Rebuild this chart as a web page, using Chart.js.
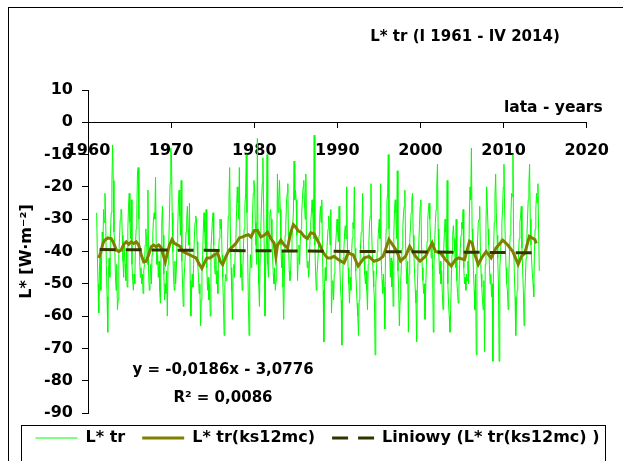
<!DOCTYPE html>
<html>
<head>
<meta charset="utf-8">
<script src="https://cdn.jsdelivr.net/npm/chart.js@4.4.1/dist/chart.umd.min.js"></script>
<style>
  html, body { margin: 0; padding: 0; background: #fff; }
  #c { display: block; }
</style>
</head>
<body>
<canvas id="c" width="623" height="461"></canvas>
<script>
// Net long-wave radiation L* [W·m-2], monthly, I 1961 – IV 2014 (one row per year)
const firstYear = 1961;
const lTr = [
  -28, -41, -50, -59, -46, -40, -52, -44, -34, -38, -27, -31,
  -22, -30, -44, -54, -65, -46, -42, -48, -34, -28, -19, -7,
  -18, -34, -37, -47, -52, -44, -58, -55, -41, -36, -30, -27,
  -27, -35, -43, -48, -38, -44, -49, -40, -51, -33, -26, -22,
  -31, -36, -24, -44, -49, -52, -47, -50, -38, -33, -27, -15,
  -14, -30, -42, -48, -45, -50, -47, -53, -46, -44, -38, -33,
  -36, -44, -21, -47, -52, -49, -44, -50, -41, -35, -30, -28,
  -30, -17, -38, -44, -41, -48, -43, -52, -56, -40, -31, -26,
  -35, -47, -55, -50, -53, -46, -60, -44, -38, -30, -19, -8,
  -10, -28, -40, -48, -52, -43, -50, -46, -37, -33, -25, -21,
  -29, -35, -18, -43, -50, -57, -49, -45, -41, -34, -30, -26,
  -33, -38, -25, -49, -60, -52, -47, -51, -44, -36, -31, -29,
  -30, -37, -44, -48, -53, -50, -63, -55, -47, -41, -33, -28,
  -34, -40, -27, -45, -52, -48, -55, -50, -60, -39, -35, -31,
  -28, -38, -44, -47, -41, -50, -46, -53, -40, -36, -30, -33,
  -30, -41, -48, -56, -66, -51, -47, -49, -43, -38, -29, -24,
  -14, -33, -45, -52, -61, -47, -44, -48, -40, -36, -27, -20,
  -25, -30, -14, -40, -48, -44, -52, -46, -38, -33, -26, -22,
  -10, -28, -42, -55, -66, -48, -41, -45, -37, -30, -22, -18,
  -20, -31, -38, -44, -5, -40, -50, -57, -42, -33, -25, -19,
  -11, -26, -40, -60, -45, -38, -10, -44, -48, -36, -29, -27,
  -30, -36, -42, -47, -50, -45, -52, -49, -40, -16, -28, -24,
  -18, -27, -38, -45, -40, -51, -61, -48, -35, -32, -25, -22,
  -19, -37, -46, -49, -46, -40, -36, -32, -28, -12, -24, -21,
  -24, -35, -49, -42, -38, -44, -37, -33, -28, -24, -20, -18,
  -25, -30, -16, -39, -45, -43, -48, -45, -36, -31, -28, -24,
  -28, -36, -4, -38, -46, -52, -47, -44, -40, -35, -30, -26,
  -31, -24, -40, -52, -68, -50, -45, -49, -41, -37, -33, -29,
  -33, -38, -27, -59, -52, -49, -55, -47, -42, -38, -34, -30,
  -34, -37, -26, -44, -51, -55, -69, -50, -42, -39, -34, -32,
  -36, -20, -38, -45, -50, -56, -48, -52, -41, -36, -31, -33,
  -20, -39, -46, -51, -56, -60, -66, -55, -45, -38, -34, -32,
  -22, -36, -42, -47, -50, -46, -52, -58, -44, -37, -31, -29,
  -19, -34, -41, -46, -51, -55, -72, -50, -46, -40, -37, -33,
  -30, -36, -19, -44, -49, -53, -47, -51, -64, -40, -33, -25,
  -22, -10, -33, -41, -48, -42, -51, -43, -57, -35, -27, -24,
  -28, -36, -15, -46, -52, -63, -55, -49, -44, -39, -33, -28,
  -26, -21, -38, -45, -50, -43, -65, -47, -36, -33, -28, -24,
  -22, -35, -41, -47, -52, -56, -68, -51, -43, -38, -32, -26,
  -24, -38, -45, -49, -53, -50, -61, -52, -44, -37, -30, -27,
  -25, -30, -36, -42, -38, -46, -65, -44, -37, -31, -27, -20,
  -13, -33, -41, -47, -43, -50, -46, -53, -58, -40, -34, -30,
  -34, -42, -18, -50, -56, -60, -65, -58, -49, -41, -35, -32,
  -36, -40, -45, -30, -49, -53, -56, -51, -44, -39, -35, -31,
  -33, -27, -45, -50, -48, -52, -47, -49, -43, -50, -30, -20,
  -24, -8, -33, -40, -46, -52, -58, -47, -72, -43, -36, -31,
  -30, -26, -40, -47, -51, -55, -58, -49, -71, -44, -32, -20,
  -26, -33, -38, -44, -50, -47, -54, -50, -74, -40, -31, -23,
  -16, -28, -35, -42, -50, -74, -45, -41, -36, -31, -27, -20,
  -13, -27, -38, -45, -50, -52, -58, -48, -40, -35, -29, -22,
  -23, -10, -38, -47, -54, -66, -57, -52, -46, -41, -36, -31,
  -29, -26, -39, -46, -52, -63, -54, -48, -42, -36, -30, -24,
  -19, -13, -30, -38, -43, -47, -50, -54, -40, -33, -27, -22,
  -25, -19, -33, -46
];

// 12-month moving average (ks12mc), read at these dates
const maYears = [
  1961.3, 1961.5, 1961.8, 1962.0, 1962.4, 1962.8, 1963.1, 1963.4, 1963.7, 1964.0,
  1964.3, 1964.6, 1964.9, 1965.2, 1965.5, 1965.8, 1966.1, 1966.4, 1966.7, 1967.0,
  1967.3, 1967.6, 1967.9, 1968.2, 1968.5, 1968.8, 1969.1, 1969.3, 1969.5, 1969.8,
  1970.1, 1970.4, 1970.8, 1971.1, 1971.4, 1971.8, 1972.2, 1972.6, 1973.0, 1973.4,
  1973.7, 1974.0, 1974.3, 1974.7, 1975.2, 1975.6, 1975.9, 1976.2, 1976.6, 1977.0,
  1977.4, 1977.8, 1978.2, 1978.6, 1979.0, 1979.3, 1979.6, 1980.0, 1980.4, 1980.8,
  1981.2, 1981.6, 1982.0, 1982.4, 1982.6, 1982.8, 1983.2, 1983.6, 1984.0, 1984.4,
  1984.7, 1985.0, 1985.3, 1985.6, 1986.0, 1986.4, 1986.8, 1987.2, 1987.6, 1987.9,
  1988.3, 1988.8, 1989.2, 1989.6, 1990.1, 1990.8, 1991.3, 1991.9, 1992.5, 1993.2,
  1993.8, 1994.4, 1995.0, 1995.5, 1995.8, 1996.2, 1996.8, 1997.2, 1997.6, 1998.2,
  1998.7, 1999.4, 1999.95, 2000.6, 2001.4, 2001.8, 2002.4, 2003.0, 2003.7, 2004.2,
  2004.6, 2005.3, 2005.9, 2006.2, 2006.55, 2006.95, 2007.35, 2007.9, 2008.5, 2009.1,
  2009.9, 2010.5, 2011.1, 2011.75, 2012.15, 2012.55, 2013.1, 2013.75, 2013.95
];
const maValues = [
  -42.0, -40.5, -37.5, -36.5, -35.8, -36.0, -37.5, -39.5, -40.0, -39.5,
  -37.8, -37.0, -37.8, -37.0, -37.5, -37.0, -38.0, -41.0, -43.2, -43.0,
  -41.0, -38.5, -38.0, -38.5, -38.0, -38.8, -41.5, -43.2, -41.0, -38.0,
  -36.3, -37.5, -38.0, -38.5, -40.0, -40.5, -41.0, -41.5, -42.0, -44.0,
  -45.2, -43.5, -42.0, -42.0, -41.0, -40.5, -43.0, -44.0, -41.5, -39.5,
  -38.5, -37.5, -35.8, -35.5, -35.0, -34.8, -35.5, -33.5, -33.5, -35.5,
  -35.0, -34.0, -36.0, -37.5, -41.5, -38.0, -36.5, -38.0, -38.9, -34.0,
  -31.7, -32.5, -33.7, -34.0, -35.3, -36.0, -34.2, -34.5, -36.5, -38.0,
  -40.4, -42.0, -42.0, -41.5, -42.5, -43.5, -40.5, -41.0, -44.5, -42.0,
  -41.5, -43.0, -42.5, -41.5, -39.4, -36.3, -38.5, -40.2, -43.0, -41.5,
  -38.4, -41.5, -43.0, -41.5, -37.3, -40.0, -40.4, -42.5, -44.5, -42.5,
  -42.0, -42.5, -36.8, -37.2, -41.0, -44.0, -42.0, -40.0, -42.0, -38.9,
  -36.5, -38.0, -40.0, -44.0, -41.5, -40.5, -35.3, -36.3, -37.5
];

// Linear trend of the moving average (end points)
const trendYears = [1961.4, 2013.9];
const trendValues = [-39.4, -40.4];

const seriesNames = ['L* tr', 'L* tr(ks12mc)', 'Liniowy (L* tr(ks12mc) )'];
const titleText = 'L* tr (I 1961 - IV 2014)';
const xAxisText = 'lata - years';
const yAxisText = 'L* [W·m⁻²]';
const equationText = 'y = -0,0186x - 3,0776';
const r2Text = 'R² = 0,0086';

const FONT = 'DejaVu Sans';

const monthly = lTr.map((v, i) => ({ x: firstYear + (i + 0.5) / 12, y: v }));
const movingAvg = maYears.map((t, i) => ({ x: t, y: maValues[i] }));
const trend = trendYears.map((t, i) => ({ x: t, y: trendValues[i] }));

// frames and free-standing captions
const captions = {
  id: 'captions',
  beforeDraw(chart) {
    const ctx = chart.ctx;
    ctx.save();
    ctx.fillStyle = '#fff';
    ctx.fillRect(0, 0, chart.width, chart.height);
    ctx.restore();
  },
  afterDraw(chart) {
    const ctx = chart.ctx;
    const xs = chart.scales.x;
    ctx.save();
    ctx.strokeStyle = '#000';
    ctx.lineWidth = 1;
    ctx.strokeRect(8.5, 7.5, 700, 600);
    ctx.strokeRect(21.5, 425.5, 584, 80);
    ctx.fillStyle = '#000';
    ctx.textBaseline = 'middle';
    ctx.font = `bold 15px "${FONT}"`;
    ctx.textAlign = 'center';
    ctx.fillText(titleText, 465, 37);
    ctx.fillText(equationText, 223, 370);
    ctx.fillText(r2Text, 223, 398);
    ctx.font = `bold 15.5px "${FONT}"`;
    ctx.textAlign = 'right';
    ctx.fillText(xAxisText, xs.getPixelForValue(2020) + 16, 108);
    ctx.restore();
  }
};

// legend entries drawn with each dataset's own line width and dash
function legendLabels(chart) {
  const items = Chart.defaults.plugins.legend.labels.generateLabels(chart);
  items.forEach(it => {
    const ds = chart.data.datasets[it.datasetIndex];
    it.lineDash = ds.borderDash || [];
    it.lineWidth = ds.borderWidth;
    it.strokeStyle = ds.borderColor;
    it.fillStyle = ds.borderColor;
  });
  return items;
}

new Chart(document.getElementById('c'), {
  type: 'line',
  data: {
    datasets: [
      {
        label: seriesNames[0], data: monthly,
        borderColor: '#00ff00', backgroundColor: '#00ff00',
        borderWidth: 1, pointRadius: 0, tension: 0, order: 3
      },
      {
        label: seriesNames[1], data: movingAvg,
        borderColor: '#808000', backgroundColor: '#808000',
        borderWidth: 3, pointRadius: 0, tension: 0, order: 2
      },
      {
        label: seriesNames[2], data: trend,
        borderColor: '#333300', backgroundColor: '#333300',
        borderWidth: 3, borderDash: [16, 10], pointRadius: 0, tension: 0, order: 1
      }
    ]
  },
  options: {
    responsive: false,
    animation: false,
    events: [],
    layout: { padding: { top: 90, left: 12, right: 0, bottom: 5 } },
    font: { family: FONT },
    scales: {
      x: {
        type: 'linear',
        position: { y: 0 },
        min: 1960, max: 2020,
        grid: { drawOnChartArea: false, drawTicks: true, tickLength: 5, color: '#000', tickColor: '#000' },
        border: { display: true, color: '#000', width: 1 },
        ticks: {
          stepSize: 10, padding: 14, color: '#000', maxRotation: 0,
          font: { family: FONT, size: 16, weight: 'bold' },
          callback: v => String(v)
        }
      },
      y: {
        type: 'linear',
        position: 'left',
        min: -90, max: 10,
        grid: { drawOnChartArea: false, drawTicks: true, tickLength: 6, color: '#000', tickColor: '#000' },
        border: { display: true, color: '#000', width: 1 },
        ticks: {
          stepSize: 10, padding: 9, color: '#000',
          font: { family: FONT, size: 16, weight: 'bold' }
        },
        title: {
          display: true, text: yAxisText, color: '#000',
          padding: { top: 5, bottom: 0 },
          font: { family: FONT, size: 16, weight: 'bold' }
        },
        afterFit: s => { s.width = 76; }
      },
      yRight: {
        type: 'linear',
        position: 'right',
        display: true,
        grid: { display: false },
        border: { display: false },
        ticks: { display: false },
        afterFit: s => { s.width = 34; }
      }
    },
    plugins: {
      legend: {
        position: 'bottom',
        labels: {
          usePointStyle: true,
          pointStyle: 'line',
          pointStyleWidth: 42,
          padding: 17,
          color: '#000',
          font: { family: FONT, size: 16, weight: 'bold' },
          generateLabels: legendLabels,
          sort: (a, b) => a.datasetIndex - b.datasetIndex
        }
      },
      title: { display: false },
      tooltip: { enabled: false }
    }
  },
  plugins: [captions]
});
</script>
</body>
</html>
